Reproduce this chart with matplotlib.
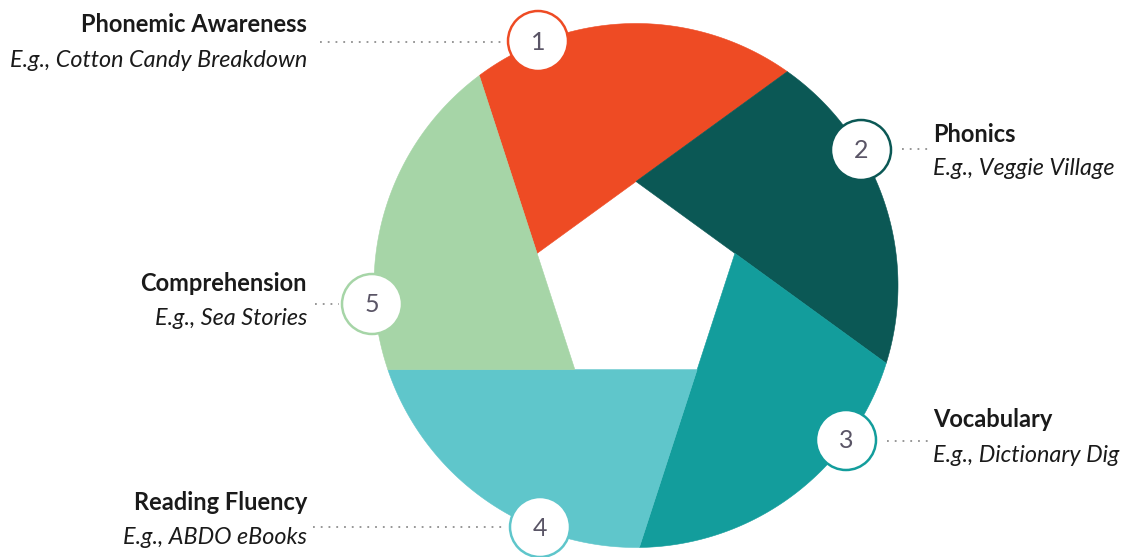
import numpy as np
import matplotlib
matplotlib.use('Agg')
import matplotlib.pyplot as plt
from matplotlib.patches import Polygon, Circle

plt.rcParams['font.family'] = ['Lato', 'DejaVu Sans']

# data
numbers = ['1', '2', '3', '4', '5']
titles = ['Phonemic Awareness', 'Phonics', 'Vocabulary', 'Reading Fluency', 'Comprehension']
examples = ['Cotton Candy Breakdown', 'Veggie Village', 'Dictionary Dig', 'ABDO eBooks', 'Sea Stories']
colors = ['#EE4B24', '#0B5855', '#139D9C', '#5FC6CB', '#A6D5A7']

# layout (pixel coords, y down)
cx, cy, r_out, r_in = 636, 285.5, 262, 104
marker_xy = [(538, 41), (861, 150), (846, 440), (540, 527), (372, 304)]
label_x = [307, 933, 933, 307, 307]
label_ha = ['right', 'left', 'left', 'right', 'right']
title_y = [32, 142, 427, 510, 291]
sub_y = [67, 175, 462, 544, 325]
leader = [((320, 506), 42), ((902, 928), 149), ((887, 929), 441), ((313, 507), 527), ((315, 339), 304)]

fig = plt.figure(figsize=(11.21, 5.57), dpi=100)
ax = fig.add_axes([0, 0, 1, 1])
ax.set_xlim(0, 1121)
ax.set_ylim(557, 0)
ax.axis('off')

# pentagon vertices: left, top, right, bottom-right, bottom-left
ang = np.radians([198, 270, 342, 54, 126])
verts = np.c_[cx + r_in * np.cos(ang), cy + r_in * np.sin(ang)]


def ray_hit(p, d):
    d = d / np.linalg.norm(d)
    f = p - np.array([cx, cy])
    b = np.dot(f, d)
    c = np.dot(f, f) - r_out ** 2
    t = -b + np.sqrt(b * b - c)
    return p + t * d


n = len(verts)
for i in range(n):
    v0 = verts[i]
    v1 = verts[(i + 1) % n]
    p0 = ray_hit(v0, v0 - verts[i - 1])
    p1 = ray_hit(v1, v1 - v0)
    a0 = np.arctan2(p0[1] - cy, p0[0] - cx)
    a1 = np.arctan2(p1[1] - cy, p1[0] - cx)
    if a1 < a0:
        a1 += 2 * np.pi
    t = np.linspace(a0, a1, 100)
    arc = np.c_[cx + r_out * np.cos(t), cy + r_out * np.sin(t)]
    pts = np.vstack([v0, arc, v1])
    ax.add_patch(Polygon(pts, closed=True, facecolor=colors[i], edgecolor=colors[i], lw=0.4, zorder=1))

# leader lines
for (xs, y) in leader:
    ax.plot(xs, [y, y], color='#8f8f8f', lw=1.3, linestyle=(0, (1, 3.3)), zorder=2)

# number markers
for i, (mx, my) in enumerate(marker_xy):
    ax.add_patch(Circle((mx, my), 30, facecolor='white', edgecolor=colors[i], lw=1.8, zorder=3))
    ax.text(mx, my + 1, numbers[i], ha='center', va='center', fontsize=18,
            fontweight='normal', color='#5a5566', zorder=4)

# labels
for i in range(n):
    ax.text(label_x[i], title_y[i], titles[i], ha=label_ha[i], va='baseline',
            fontsize=17, fontweight='bold', color='#1a1a1a')
    ax.text(label_x[i], sub_y[i], 'E.g., ' + examples[i], ha=label_ha[i], va='baseline',
            fontsize=16.8, fontstyle='italic', color='#1a1a1a')

fig.savefig('out.png', dpi=100, facecolor='white')
